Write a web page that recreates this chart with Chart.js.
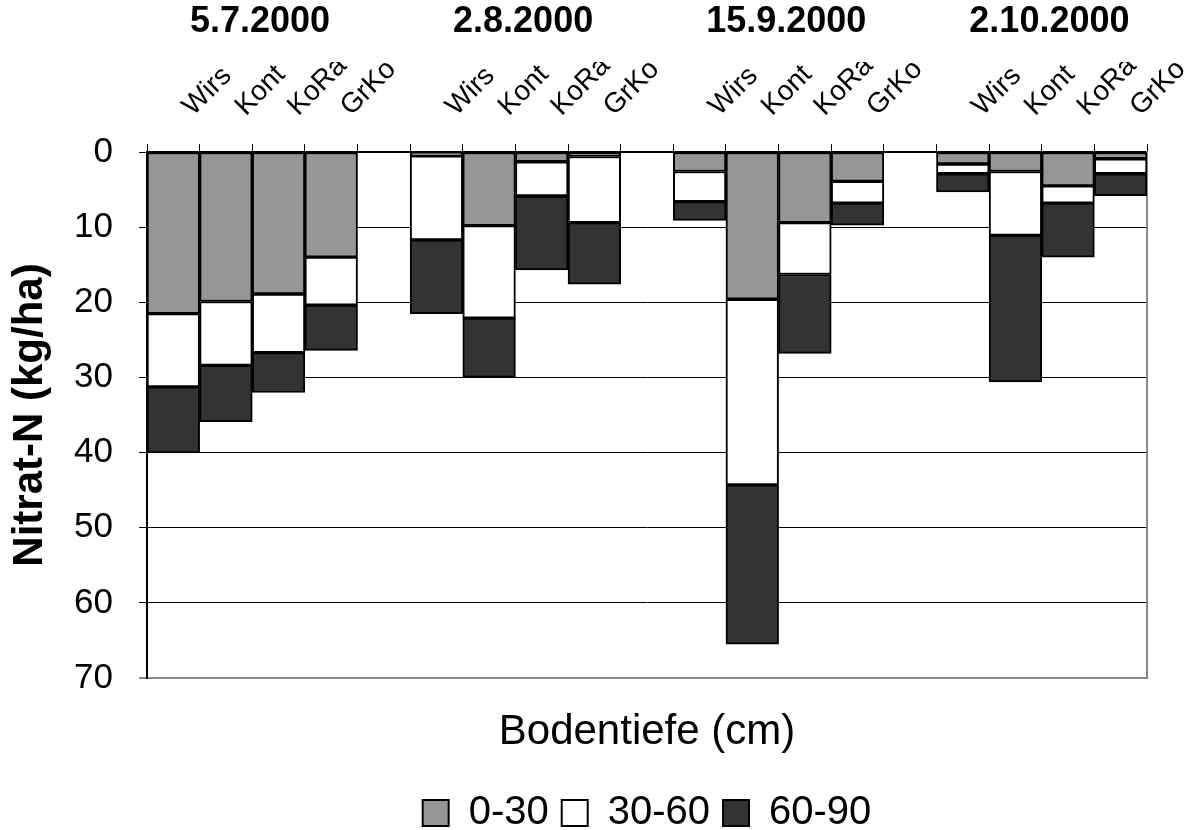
<!DOCTYPE html>
<html><head><meta charset="utf-8">
<script src="https://cdn.jsdelivr.net/npm/chart.js@4/dist/chart.umd.min.js"></script>
<style>html,body{margin:0;padding:0;background:#fff}#wrap{width:1191px;height:830px}</style>
</head><body><div id="wrap"><canvas id="c"></canvas></div>
<script>
const categories = ['Wirs','Kont','KoRa','GrKo','', 'Wirs','Kont','KoRa','GrKo','', 'Wirs','Kont','KoRa','GrKo','', 'Wirs','Kont','KoRa','GrKo'];
const groupLabels = ['','5.7.2000','','','', '','2.8.2000','','','', '','15.9.2000','','','', '','2.10.2000','',''];
const seriesNames = ['0-30','30-60','60-90'];
const depth0_30  = [21.5, 19.9, 18.9, 14.0, null, 0.5, 9.8, 1.3, 0.6, null, 2.6, 19.6, 9.4, 3.9, null, 1.6, 2.6, 4.5, 0.9];
const depth30_60 = [9.75, 8.5, 7.8, 6.4, null, 11.2, 12.3, 4.55, 8.8, null, 4.0, 24.7, 6.9, 2.9, null, 1.3, 8.5, 2.3, 2.0];
const depth60_90 = [8.8, 7.5, 5.3, 6.0, null, 9.8, 7.9, 9.85, 8.2, null, 2.5, 21.2, 10.5, 2.95, null, 2.4, 19.5, 7.2, 2.9];
const yTicks = [0,10,20,30,40,50,60,70];
const xTitle = 'Bodentiefe (cm)';
const yTitle = 'Nitrat-N (kg/ha)';

Chart.defaults.font.family = "'Liberation Sans', Arial, sans-serif";
Chart.defaults.color = '#000';

new Chart(document.getElementById('c'), {
  type: 'bar',
  data: {
    labels: categories,
    datasets: [
      {label: seriesNames[0], data: depth0_30, backgroundColor: '#969696', xAxisID: 'x', yAxisID: 'y'},
      {label: seriesNames[1], data: depth30_60, backgroundColor: '#ffffff', xAxisID: 'x', yAxisID: 'y'},
      {label: seriesNames[2], data: depth60_90, backgroundColor: '#333333', xAxisID: 'x', yAxisID: 'y'}
    ]
  },
  options: {
    responsive: true, maintainAspectRatio: false, animation: false,
    layout: {padding: {left: 0, right: 0, top: 0, bottom: -13}},
    datasets: {bar: {barPercentage: 1, categoryPercentage: 1, borderWidth: 2, borderColor: '#000', borderSkipped: false}},
    plugins: {
      legend: {position: 'bottom', fullSize: false, labels: {font: {size: 40}, boxWidth: 26, boxHeight: 26, padding: 13, color: '#000'}},
      tooltip: {enabled: false}
    },
    scales: {
      x: {
        type: 'category', position: 'top', offset: true, stacked: true,
        grid: {offset: true, drawOnChartArea: false, drawTicks: true, tickLength: 8, color: '#000', lineWidth: 1},
        border: {display: true, color: '#000', width: 2},
        ticks: {autoSkip: false, minRotation: 45, maxRotation: 45, padding: 21, labelOffset: 38, font: {size: 28}},
        afterFit(s) { s.height = 90; s.paddingLeft = 0; s.paddingRight = 0; }
      },
      xg: {
        type: 'category', labels: groupLabels, position: 'top', offset: true, weight: 10,
        grid: {display: false}, border: {display: false},
        ticks: {autoSkip: false, maxRotation: 0, minRotation: 0, padding: 10, labelOffset: 34, font: {size: 36, weight: 'bold'}},
        afterFit(s) { s.height = 62; s.paddingLeft = 0; s.paddingRight = 0; }
      },
      xb: {
        type: 'category', labels: categories, position: 'bottom', offset: true,
        grid: {display: false}, border: {display: false}, ticks: {display: false},
        title: {display: true, text: xTitle, font: {size: 42}, padding: {top: 0, bottom: 22}},
        afterFit(s) { s.height = 102; s.paddingLeft = 0; s.paddingRight = 0; }
      },
      y: {
        type: 'linear', position: 'left', reverse: true, min: 0, max: 70, stacked: true,
        afterBuildTicks(s) { s.ticks = yTicks.map(v => ({value: v})); },
        ticks: {padding: 26, font: {size: 35}},
        grid: {
          color: c => (c.tick && c.tick.value === 70) ? '#888' : '#000',
          lineWidth: c => (c.tick && c.tick.value === 70) ? 2 : 1,
          tickLength: 8
        },
        border: {color: '#000', width: 2},
        title: {display: true, text: yTitle, font: {size: 42, weight: 'bold'}, padding: {top: 5, bottom: 0}},
        afterFit(s) { s.width = 147; s.paddingTop = 0; s.paddingBottom = 0; }
      },
      yr: {
        type: 'linear', position: 'right', min: 0, max: 70,
        grid: {drawOnChartArea: false, drawTicks: false},
        ticks: {display: false},
        border: {color: '#888', width: 2},
        afterFit(s) { s.width = 44; }
      }
    }
  }
});
</script>
</body></html>
